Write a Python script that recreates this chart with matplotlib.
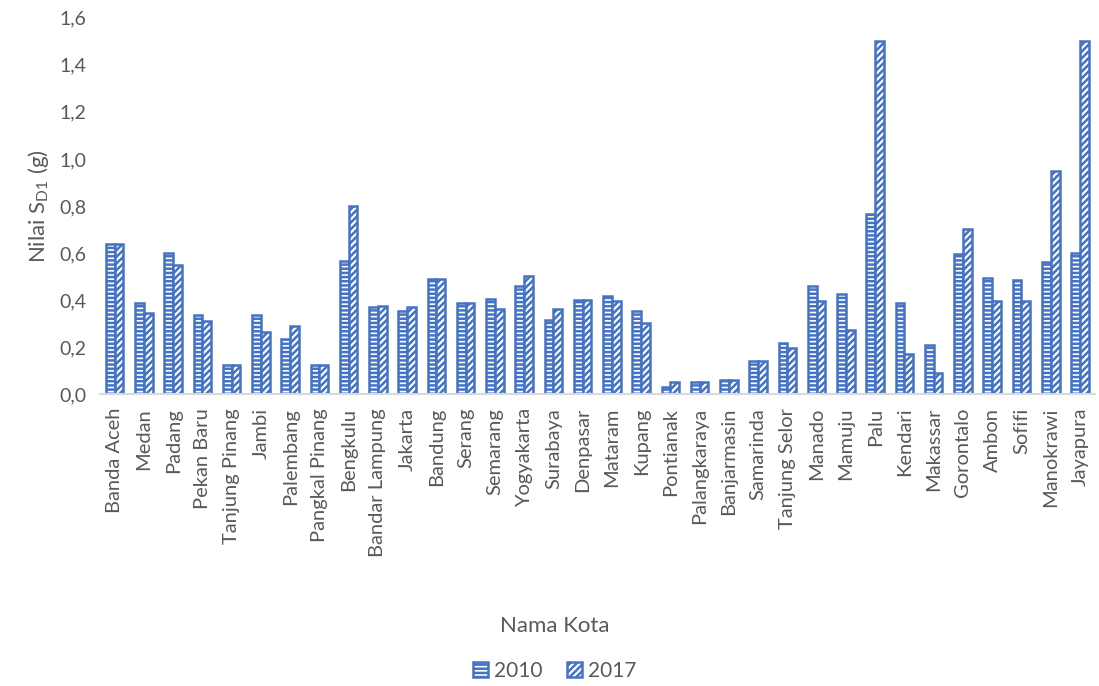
import matplotlib
matplotlib.use("Agg")
import matplotlib.pyplot as plt
import numpy as np
from matplotlib.ticker import FuncFormatter

kota = ["Banda Aceh", "Medan", "Padang", "Pekan Baru", "Tanjung Pinang", "Jambi",
        "Palembang", "Pangkal Pinang", "Bengkulu", "Bandar Lampung", "Jakarta",
        "Bandung", "Serang", "Semarang", "Yogyakarta", "Surabaya", "Denpasar",
        "Mataram", "Kupang", "Pontianak", "Palangkaraya", "Banjarmasin", "Samarinda",
        "Tanjung Selor", "Manado", "Mamuju", "Palu", "Kendari", "Makassar",
        "Gorontalo", "Ambon", "Sofifi", "Manokrawi", "Jayapura"]
sd1_2010 = [0.64, 0.385, 0.60, 0.335, 0.125, 0.335, 0.235, 0.125, 0.565, 0.37, 0.355,
            0.49, 0.385, 0.405, 0.46, 0.315, 0.40, 0.415, 0.355, 0.03, 0.05, 0.06, 0.14,
            0.215, 0.46, 0.425, 0.765, 0.385, 0.21, 0.595, 0.495, 0.485, 0.56, 0.60]
sd1_2017 = [0.64, 0.345, 0.55, 0.31, 0.125, 0.265, 0.29, 0.125, 0.80, 0.375, 0.37,
            0.49, 0.385, 0.36, 0.50, 0.36, 0.40, 0.395, 0.30, 0.05, 0.05, 0.06, 0.14,
            0.195, 0.395, 0.27, 1.50, 0.17, 0.09, 0.70, 0.395, 0.395, 0.95, 1.50]

plt.rcParams['font.family'] = ['Lato', 'DejaVu Sans']
plt.rcParams['hatch.linewidth'] = 1.8
plt.rcParams['hatch.color'] = '#4472C4'
biru = '#4472C4'
abu = '#595959'

fig = plt.figure(figsize=(10.99, 6.86), dpi=100)
ax = fig.add_axes([0.091, 0.4257, 0.905, 0.5483])

x = np.arange(len(kota))
w = 0.3
ax.bar(x - w / 2, sd1_2010, w, facecolor='white', edgecolor=biru, hatch='----',
       linewidth=1.8, label='2010')
ax.bar(x + w / 2, sd1_2017, w, facecolor='white', edgecolor=biru, hatch='/////',
       linewidth=1.8, label='2017')

ax.set_xlim(-0.5, len(kota) - 0.5)
ax.set_ylim(0, 1.6)
ax.set_yticks(np.arange(0, 1.61, 0.2))
ax.yaxis.set_major_formatter(FuncFormatter(lambda v, p: f"{v:.1f}".replace('.', ',')))
ax.set_xticks(x)
ax.set_xticklabels(kota, rotation=90, fontsize=14.5, color=abu)
ax.tick_params(axis='y', labelsize=14, labelcolor=abu, length=0, pad=10)
ax.tick_params(axis='x', length=0, pad=10)

for s in ['top', 'right', 'left']:
    ax.spines[s].set_visible(False)
ax.spines['bottom'].set_color('#D9D9D9')
ax.spines['bottom'].set_linewidth(1.5)

ax.set_ylabel('Nilai S$_{\\mathregular{D1}}$ (g)', fontsize=16, color=abu, labelpad=6)
fig.text(0.505, 0.078, 'Nama Kota', fontsize=16, color=abu, ha='center')

fig.legend(loc='lower center', bbox_to_anchor=(0.505, -0.02), ncol=2, frameon=False,
           fontsize=15, labelcolor=abu, handlelength=0.7, handleheight=0.7,
           handletextpad=0.3, columnspacing=1.2)

fig.savefig('out.png', dpi=100)
